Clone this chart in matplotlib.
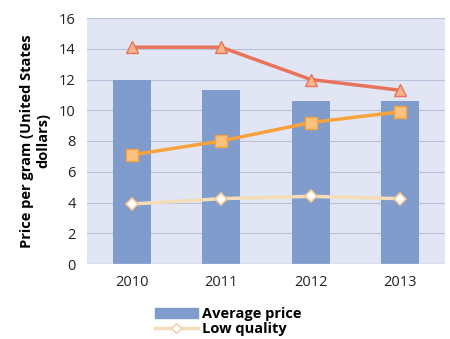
import numpy as np
import matplotlib.pyplot as plt
from matplotlib.patches import Patch
from matplotlib.lines import Line2D

plt.rcParams['font.family'] = ['Open Sans', 'DejaVu Sans']

years = ['2010', '2011', '2012', '2013']
average_price = [12.0, 11.3, 10.6, 10.6]
high_quality = [14.1, 14.1, 12.0, 11.3]
medium_quality = [7.1, 8.0, 9.2, 9.9]
low_quality = [3.9, 4.25, 4.4, 4.25]

x = np.arange(len(years))

fig = plt.figure(figsize=(4.5, 3.39), dpi=100)
ax = fig.add_axes([87 / 450, 1 - 264 / 339, 358 / 450, 246 / 339])
ax.set_facecolor('#E1E5F4')

ax.bar(x, average_price, width=0.43, color='#7F9CCC', zorder=2)
ax.plot(x, high_quality, '-^', color='#E8735A', lw=2.5, ms=9,
        mfc='#F9B48A', mec='#E8735A', mew=1, zorder=3)
ax.plot(x, medium_quality, '-s', color='#F7A23C', lw=2.5, ms=8,
        mfc='#F9C27E', mec='#F7A23C', mew=1, zorder=3)
ax.plot(x, low_quality, '-D', color='#F5DDB8', lw=2.5, ms=6.5,
        mfc='white', mec='#F5C99A', mew=1.2, zorder=3)

ax.set_xlim(-0.5, 3.5)
ax.set_ylim(0, 16)
ax.set_yticks(range(0, 17, 2))
ax.set_xticks(x)
ax.set_xticklabels(years)
ax.grid(axis='y', color='#B9C1DC', lw=0.8, zorder=1)
ax.tick_params(length=0, labelsize=10.5, colors='#222222', pad=8)
for s in ax.spines.values():
    s.set_visible(False)
ax.axhline(0, color='#C8CCD8', lw=1, zorder=2)

ax.set_ylabel('Price per gram (United States\ndollars)', fontsize=10.5,
              fontweight='bold', labelpad=6, linespacing=1.25)

handles = [Patch(color='#7F9CCC'),
           Line2D([], [], color='#F5DDB8', lw=2.5, marker='D', ms=5,
                  mfc='white', mec='#F5C99A')]
fig.legend(handles, ['Average price', 'Low quality'], loc='upper left',
           bbox_to_anchor=(148 / 450, 1 - 300 / 339), frameon=False,
           handlelength=2.9, handletextpad=0.3, labelspacing=0.05,
           borderpad=0, prop={'weight': 'bold', 'size': 10.5})

fig.savefig('out.png', dpi=100)
